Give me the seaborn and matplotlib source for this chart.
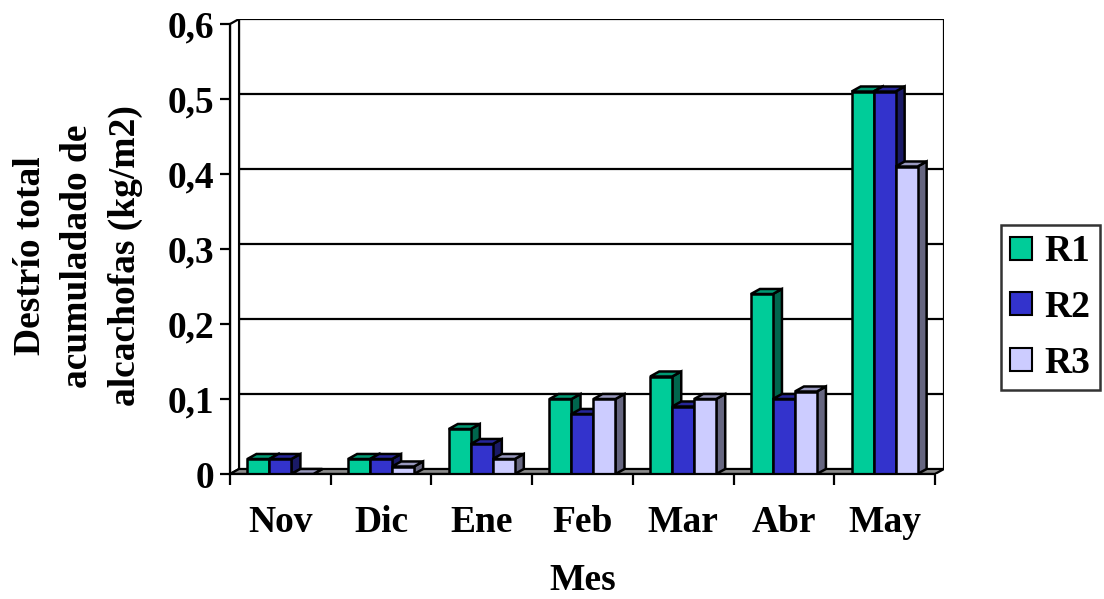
import matplotlib
matplotlib.use('Agg')
import matplotlib.pyplot as plt
from matplotlib.patches import Polygon, Patch
import numpy as np
import pandas as pd
import seaborn as sns

MESES = ['Nov', 'Dic', 'Ene', 'Feb', 'Mar', 'Abr', 'May']
SERIES = ['R1', 'R2', 'R3']
R1 = [0.02, 0.02, 0.06, 0.10, 0.13, 0.24, 0.51]
R2 = [0.02, 0.02, 0.04, 0.08, 0.09, 0.10, 0.51]
R3 = [0.00, 0.01, 0.02, 0.10, 0.10, 0.11, 0.41]
Y_TICKS = [0, 0.1, 0.2, 0.3, 0.4, 0.5, 0.6]
Y_TICK_LABELS = ['0', '0,1', '0,2', '0,3', '0,4', '0,5', '0,6']

FRONT = ['#00CC99', '#3333CC', '#CCCCFF']
TOP = ['#009973', '#262699', '#9999BF']
SIDE = ['#00664D', '#1A1A66', '#666680']

DX = 0.09     # depth in category units
DY = 0.0067   # depth in data units
FS = 27

sns.set_style('white')
plt.rcParams['font.family'] = ['Liberation Serif', 'DejaVu Serif']
plt.rcParams['font.weight'] = 'bold'
plt.rcParams.update({'text.color': 'black', 'xtick.color': 'black',
                     'ytick.color': 'black', 'axes.labelcolor': 'black'})

df = pd.DataFrame({
    'Mes': MESES * 3,
    'Serie': [s for s in SERIES for _ in MESES],
    'Valor': R1 + R2 + R3,
})

W, H = 1104, 599
fig = plt.figure(figsize=(W / 100, H / 100), dpi=100)
ax = fig.add_axes([230 / W, (H - 474) / H, (944 - 230) / W, (474 - 19) / H])

sns.barplot(data=df, x='Mes', y='Valor', hue='Serie', order=MESES, hue_order=SERIES,
            palette=FRONT, saturation=1, width=0.655, errorbar=None,
            edgecolor='black', linewidth=1.8, legend=False, ax=ax)

ax.set_xlim(-0.5, 6.5 + DX)
ax.set_ylim(0, 0.6 + DY)

# back wall, grid, side wall and floor
for v in Y_TICKS[1:]:
    ax.plot([-0.5 + DX, 6.5 + DX], [v + DY, v + DY], color='black', lw=1.6, zorder=0.5)
ax.plot([6.5 + DX, 6.5 + DX], [DY, 0.6 + DY], color='black', lw=1.6, zorder=0.5)
ax.add_patch(Polygon([(-0.5, 0), (-0.5, 0.6), (-0.5 + DX, 0.6 + DY), (-0.5 + DX, DY)],
                     closed=True, facecolor='white', edgecolor='black', lw=1.6, zorder=0.6))
ax.add_patch(Polygon([(-0.5, 0), (6.5, 0), (6.5 + DX, DY), (-0.5 + DX, DY)],
                     closed=True, facecolor='#8c8c8c', edgecolor='black', lw=1.6, zorder=0.7))

# 3D tops and sides of the bars
for i, bar in enumerate(ax.patches[:len(MESES) * len(SERIES)]):
    k = i // len(MESES)
    x0 = bar.get_x()
    x1 = x0 + bar.get_width()
    h = bar.get_height()
    z = 2 + k * 0.1
    ax.add_patch(Polygon([(x1, 0), (x1, h), (x1 + DX, h + DY), (x1 + DX, DY)], closed=True,
                         facecolor=SIDE[k], edgecolor='black', lw=1.8, zorder=z))
    ax.add_patch(Polygon([(x0, h), (x1, h), (x1 + DX, h + DY), (x0 + DX, h + DY)], closed=True,
                         facecolor=TOP[k], edgecolor='black', lw=1.8, zorder=z + 0.01))
    bar.set_zorder(z + 0.02)

for s in ['top', 'right']:
    ax.spines[s].set_visible(False)
ax.spines['left'].set_bounds(0, 0.6)
ax.spines['bottom'].set_bounds(-0.5, 6.5)
for s in ['left', 'bottom']:
    ax.spines[s].set_linewidth(1.6)
    ax.spines[s].set_color('black')
    ax.spines[s].set_zorder(3)

ax.set_yticks(Y_TICKS)
ax.set_yticklabels(Y_TICK_LABELS)
ax.set_xticks(range(len(MESES)))
ax.set_xticklabels(MESES)
ax.set_xticks(np.arange(-0.5, 7, 1), minor=True)
ax.tick_params(axis='y', direction='out', length=7, width=1.6, pad=4, labelsize=FS, left=True)
ax.tick_params(axis='x', which='major', length=0, pad=22, labelsize=FS)
ax.tick_params(axis='x', which='minor', direction='out', length=8, width=1.6, bottom=True)
for lab in ax.get_xticklabels() + ax.get_yticklabels():
    lab.set_fontweight('bold')
ax.set_xlabel('')
ax.set_ylabel('')

fig.text(583 / W, (H - 580) / H, 'Mes', ha='center', va='center', fontsize=FS, fontweight='bold')
fig.text(78 / W, (H - 256) / H, 'Destrío total\nacumuladado de\nalcachofas (kg/m2)',
         rotation=90, ha='center', va='center', fontsize=FS, fontweight='bold',
         multialignment='center', linespacing=1.45)

handles = [Patch(facecolor=c, edgecolor='black', lw=1.5) for c in FRONT]
leg = fig.legend(handles, SERIES, loc='upper left', bbox_to_anchor=(1001 / W, (H - 225) / H),
                 frameon=True, fancybox=False, edgecolor='black', fontsize=FS,
                 handlelength=0.57, handleheight=0.57, handletextpad=0.33, labelspacing=0.55,
                 borderpad=0.25, borderaxespad=0)
leg.get_frame().set_linewidth(1.8)
for t in leg.get_texts():
    t.set_fontweight('bold')

fig.savefig('out.png', dpi=100)
